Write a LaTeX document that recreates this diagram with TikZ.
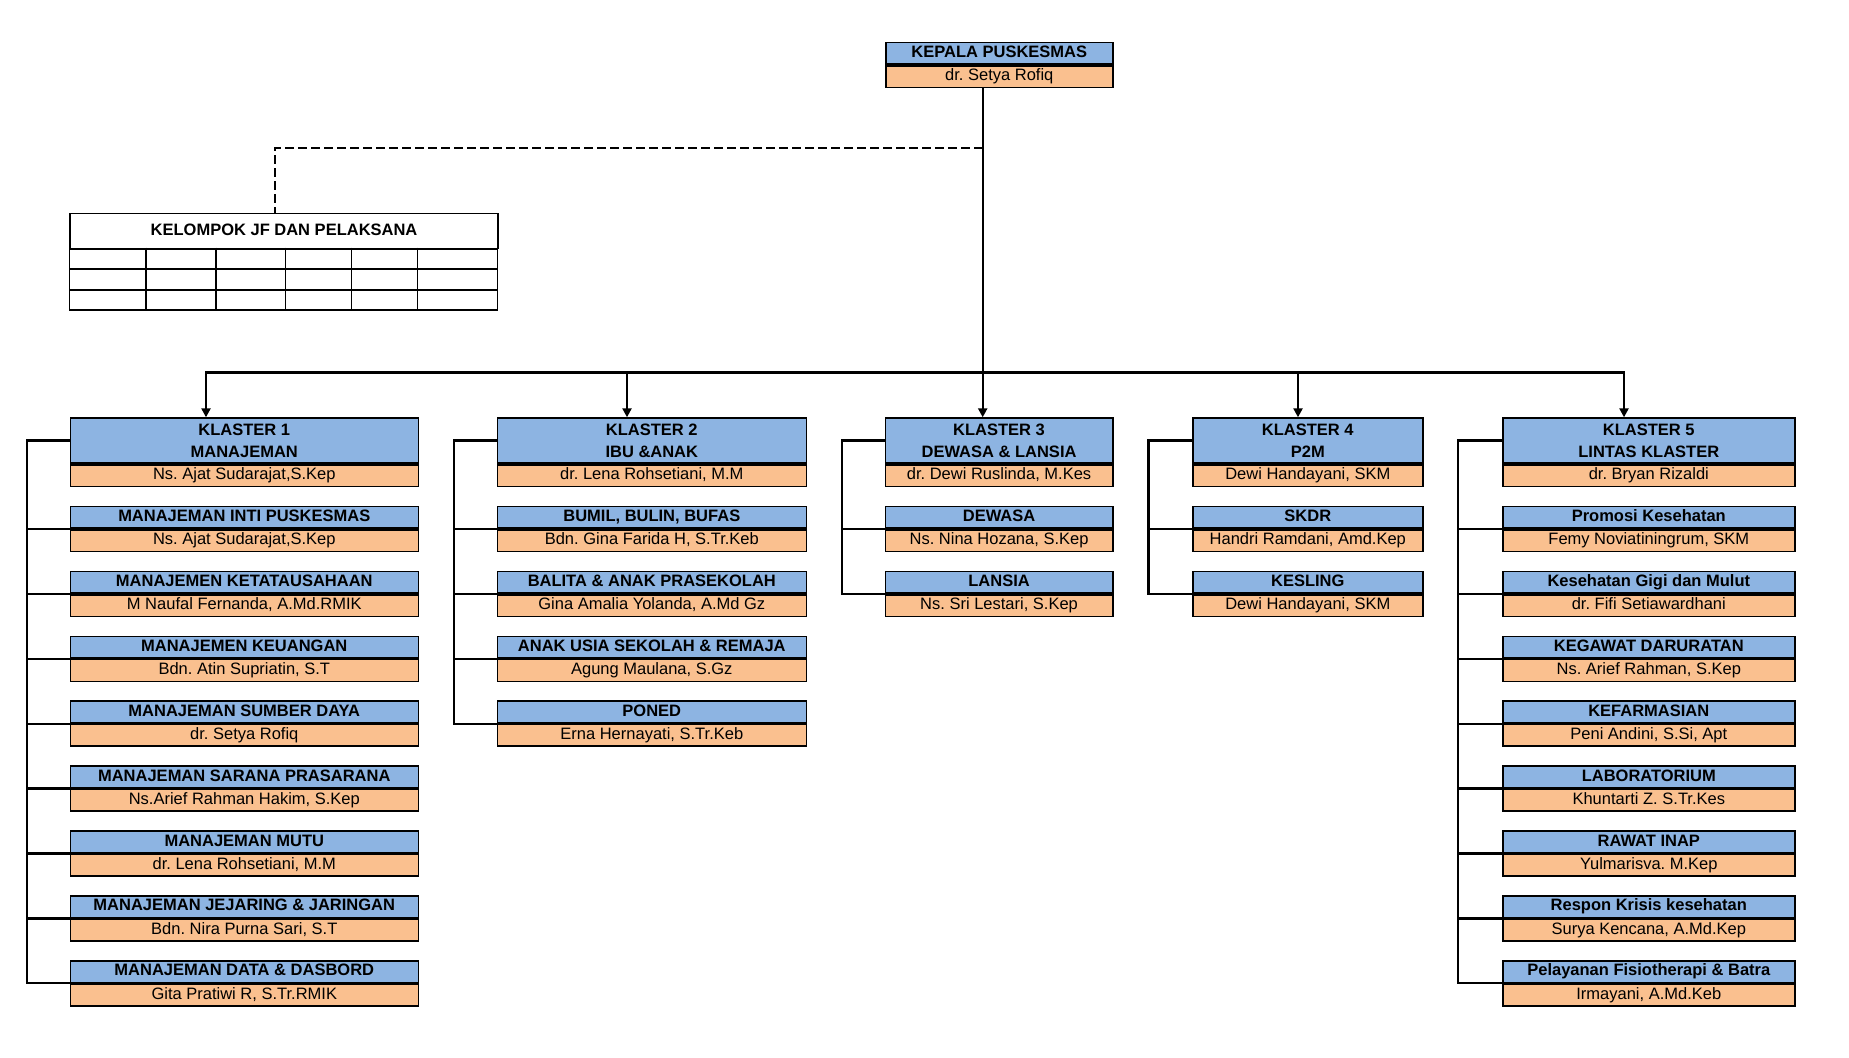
\documentclass[tikz,border=0pt]{standalone}
\usepackage{fontspec}
\setmainfont{Liberation Sans}
\frenchspacing
\usetikzlibrary{arrows.meta}
\definecolor{hdblue}{HTML}{8DB4E2}
\definecolor{hdorange}{HTML}{FAC08F}
\tikzset{
  boxbase/.style={draw=black, line width=1.6pt, inner sep=0pt},
  titlebox/.style={boxbase, fill=hdblue, minimum height=21.7pt,
    text height=11.8pt, text depth=3.4pt,
    font=\fontsize{16.5}{21.7}\selectfont\bfseries},
  klbox/.style={boxbase, fill=hdblue, minimum height=45pt, align=center,
    font=\fontsize{16.5}{21.7}\selectfont\bfseries},
  personbox/.style={boxbase, fill=hdorange, minimum height=21.7pt,
    text height=11.8pt, text depth=3.4pt,
    font=\fontsize{16.5}{21.7}\selectfont},
  conn/.style={line width=2.3pt, line cap=rect},
  arr/.style={line width=2.3pt, -{Triangle[length=9pt,width=9pt]}},
  dashconn/.style={line width=2pt, dash pattern=on 9pt off 4pt},
  tbl/.style={line width=1.5pt}
}
\newcommand\subunit[6]{%
  \node[titlebox, minimum width=#3pt, anchor=north west] (#1t) at (#2,#4) {#5};
  \node[personbox, minimum width=#3pt, anchor=north] (#1p) at (#1t.south) {#6};
}
\newcommand\klunit[6]{%
  \node[klbox, minimum width=#3pt, anchor=north west] (#1t) at (#2,#4) {#5};
  \node[personbox, minimum width=#3pt, anchor=north] (#1p) at (#1t.south) {#6};
}
\begin{document}
\begin{tikzpicture}[x=1pt, y=-1pt]
\useasboundingbox (0,0) rectangle (1849,1057);

% head
\subunit{kp}{885}{227}{41.7}{KEPALA PUSKESMAS}{dr. Setya Rofiq}

% kelompok JF table
\node[boxbase, line width=1.5pt, minimum width=428pt, minimum height=35pt, anchor=north west,
  font=\fontsize{16.5}{21.7}\selectfont\bfseries, text height=11.8pt, text depth=3.4pt] (jf) at (69.3,212.7) {KELOMPOK JF DAN PELAKSANA};
\draw[tbl] (jf.south west) rectangle (497.3,310);
\draw[tbl] (69.3,269) -- (497.3,269);
\draw[tbl] (69.3,290) -- (497.3,290);
\foreach \cx in {146,216,285.7,351.7,417.7} {\draw[tbl] (\cx,247.7) -- (\cx,310);}

% Klaster 1
\klunit{ka}{69.5}{348}{417.3}{KLASTER 1\\MANAJEMAN}{Ns. Ajat Sudarajat,S.Kep}
\subunit{sa1}{69.5}{348}{505.7}{MANAJEMAN INTI PUSKESMAS}{Ns. Ajat Sudarajat,S.Kep}
\subunit{sa2}{69.5}{348}{570.6}{MANAJEMEN KETATAUSAHAAN}{M Naufal Fernanda, A.Md.RMIK}
\subunit{sa3}{69.5}{348}{635.5}{MANAJEMEN KEUANGAN}{Bdn. Atin Supriatin, S.T}
\subunit{sa4}{69.5}{348}{700.4}{MANAJEMAN SUMBER DAYA}{dr. Setya Rofiq}
\subunit{sa5}{69.5}{348}{765.3}{MANAJEMAN SARANA PRASARANA}{Ns.Arief Rahman Hakim, S.Kep}
\subunit{sa6}{69.5}{348}{830.2}{MANAJEMAN MUTU}{dr. Lena Rohsetiani, M.M}
\subunit{sa7}{69.5}{348}{895.1}{MANAJEMAN JEJARING \& JARINGAN}{Bdn. Nira Purna Sari, S.T}
\subunit{sa8}{69.5}{348}{960.0}{MANAJEMAN DATA \& DASBORD}{Gita Pratiwi R, S.Tr.RMIK}

% Klaster 2
\klunit{kb}{496.5}{309}{417.3}{KLASTER 2\\IBU \&ANAK}{dr. Lena Rohsetiani, M.M}
\subunit{sb1}{496.5}{309}{505.7}{BUMIL, BULIN, BUFAS}{Bdn. Gina Farida H, S.Tr.Keb}
\subunit{sb2}{496.5}{309}{570.6}{BALITA \& ANAK PRASEKOLAH}{Gina Amalia Yolanda, A.Md Gz}
\subunit{sb3}{496.5}{309}{635.5}{ANAK USIA SEKOLAH \& REMAJA}{Agung Maulana, S.Gz}
\subunit{sb4}{496.5}{309}{700.4}{PONED}{Erna Hernayati, S.Tr.Keb}

% Klaster 3
\klunit{kc}{884.5}{227.5}{417.3}{KLASTER 3\\DEWASA \& LANSIA}{dr. Dewi Ruslinda, M.Kes}
\subunit{sc1}{884.5}{227.5}{505.7}{DEWASA}{Ns. Nina Hozana, S.Kep}
\subunit{sc2}{884.5}{227.5}{570.6}{LANSIA}{Ns. Sri Lestari, S.Kep}

% Klaster 4
\klunit{kd}{1192}{230}{417.3}{KLASTER 4\\P2M}{Dewi Handayani, SKM}
\subunit{sd1}{1192}{230}{505.7}{SKDR}{Handri Ramdani, Amd.Kep}
\subunit{sd2}{1192}{230}{570.6}{KESLING}{Dewi Handayani, SKM}

% Klaster 5
\klunit{ke}{1502}{292}{417.3}{KLASTER 5\\LINTAS KLASTER}{dr. Bryan Rizaldi}
\subunit{se1}{1502}{292}{505.7}{Promosi Kesehatan}{Femy Noviatiningrum, SKM}
\subunit{se2}{1502}{292}{570.6}{Kesehatan Gigi dan Mulut}{dr. Fifi Setiawardhani}
\subunit{se3}{1502}{292}{635.5}{KEGAWAT DARURATAN}{Ns. Arief Rahman, S.Kep}
\subunit{se4}{1502}{292}{700.4}{KEFARMASIAN}{Peni Andini, S.Si, Apt}
\subunit{se5}{1502}{292}{765.3}{LABORATORIUM}{Khuntarti Z. S.Tr.Kes}
\subunit{se6}{1502}{292}{830.2}{RAWAT INAP}{Yulmarisva. M.Kep}
\subunit{se7}{1502}{292}{895.1}{Respon Krisis kesehatan}{Surya Kencana, A.Md.Kep}
\subunit{se8}{1502}{292}{960.0}{Pelayanan Fisiotherapi \& Batra}{Irmayani, A.Md.Keb}

% main connectors
\coordinate (mtop) at (982.7,0);
\coordinate (b1) at (206,372.6);
\coordinate (b2) at (627,372.6);
\coordinate (b3) at (982.7,372.6);
\coordinate (b4) at (1298,372.6);
\coordinate (b5) at (1624,372.6);
\coordinate (dj) at (982.7,148);
\coordinate (dx) at (275,0);
\draw[conn] (kpp.south -| mtop) -- (b3);
\draw[conn] (b1) -- (b5);
\draw[dashconn] (dj) -| (jf.north -| dx);
\draw[arr] (b1) -- (b1 |- kat.north);
\draw[arr] (b2) -- (b2 |- kbt.north);
\draw[arr] (b3) -- (b3 |- kct.north);
\draw[arr] (b4) -- (b4 |- kdt.north);
\draw[arr] (b5) -- (b5 |- ket.north);

% trunks
\coordinate (ta) at (27,0);
\coordinate (tb) at (454,0);
\coordinate (tc) at (842,0);
\coordinate (td) at (1148.5,0);
\coordinate (te) at (1458,0);
\draw[conn] (kat.west) -| (sa8t.south west -| ta);
\foreach \i in {1,...,8} {\draw[conn] (sa\i t.south west) -- (sa\i t.south west -| ta);}
\draw[conn] (kbt.west) -| (sb4t.south west -| tb);
\foreach \i in {1,...,4} {\draw[conn] (sb\i t.south west) -- (sb\i t.south west -| tb);}
\draw[conn] (kct.west) -| (sc2t.south west -| tc);
\foreach \i in {1,2} {\draw[conn] (sc\i t.south west) -- (sc\i t.south west -| tc);}
\draw[conn] (kdt.west) -| (sd2t.south west -| td);
\foreach \i in {1,2} {\draw[conn] (sd\i t.south west) -- (sd\i t.south west -| td);}
\draw[conn] (ket.west) -| (se8t.south west -| te);
\foreach \i in {1,...,8} {\draw[conn] (se\i t.south west) -- (se\i t.south west -| te);}
\end{tikzpicture}
\end{document}
